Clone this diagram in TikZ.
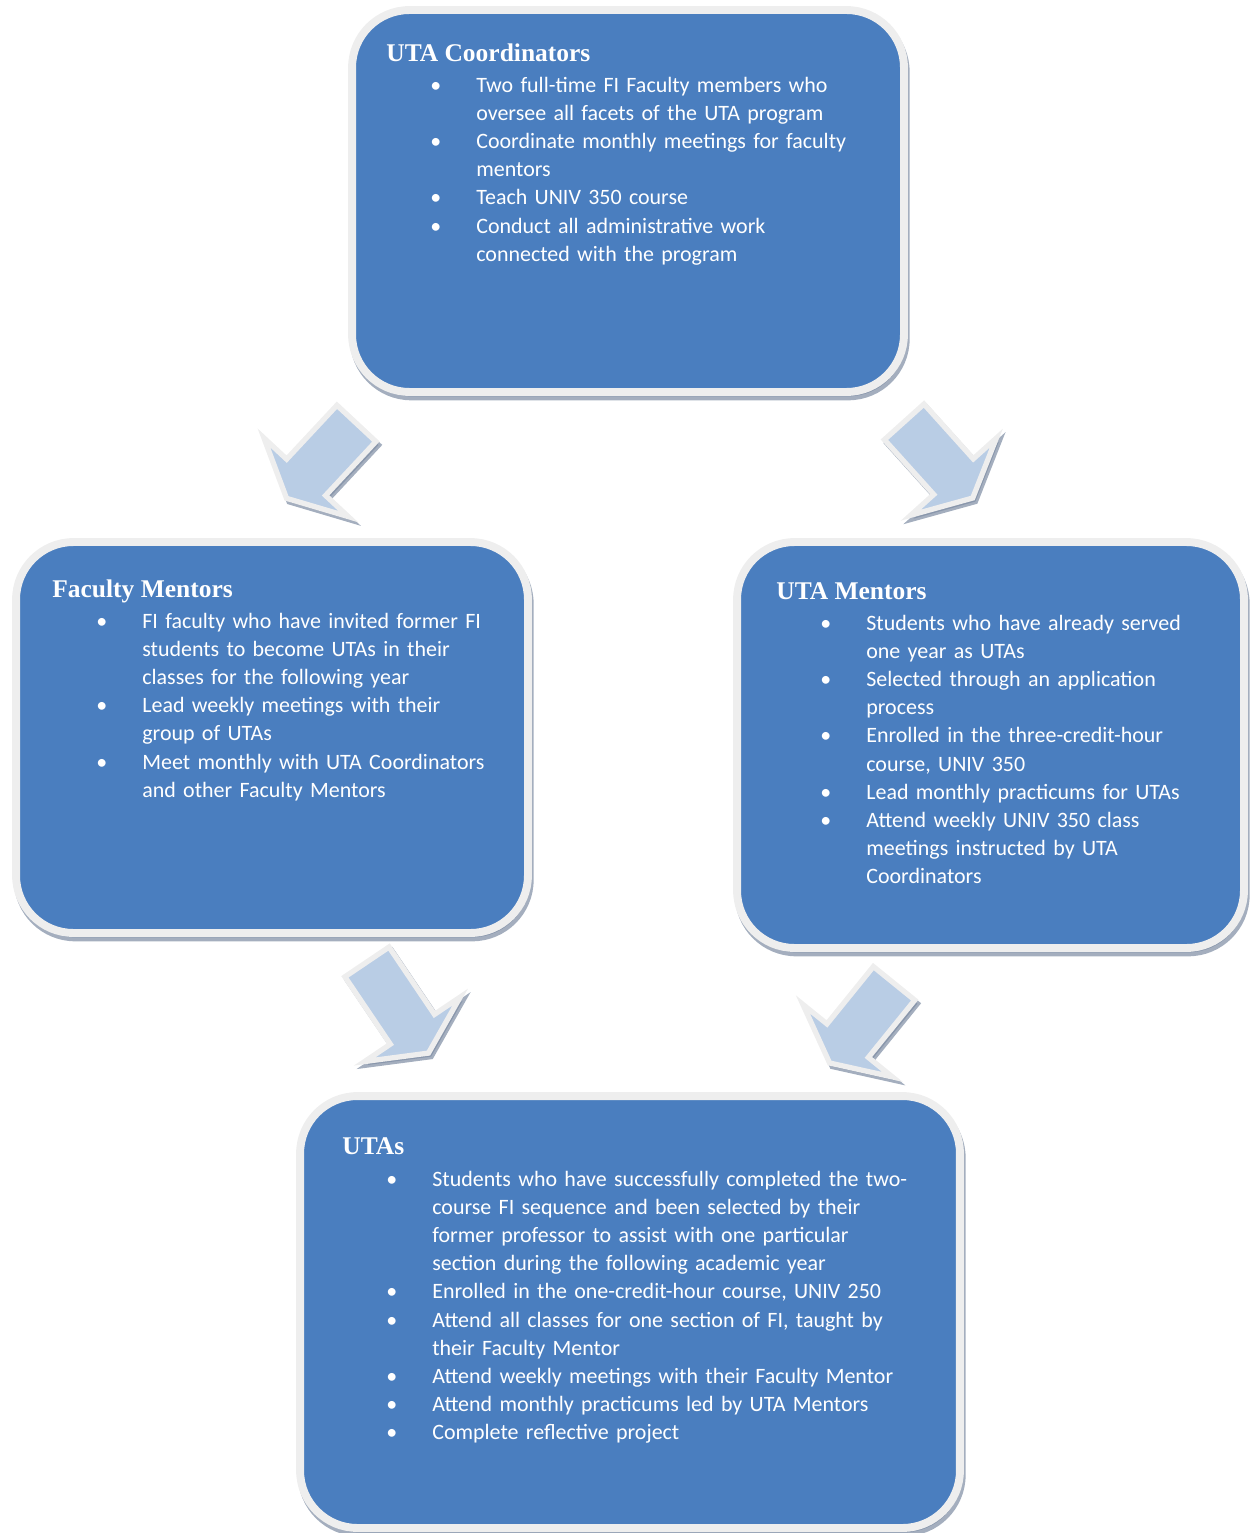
\documentclass[tikz,border=0pt]{standalone}
\usepackage{fontspec}
\setmainfont{Carlito}
\newfontfamily\headfont{Liberation Serif}
\usepackage{enumitem}
\setlist[itemize]{label=\strut\textbullet, leftmargin=0.8cm, labelsep=0.7cm, itemsep=0pt, parsep=0pt, topsep=0pt, partopsep=0pt}
\usetikzlibrary{positioning, shapes.arrows, shadows}
\definecolor{cbox}{HTML}{4A7EBF}
\definecolor{cedge}{HTML}{EEEEEE}
\definecolor{cshade}{HTML}{7D8CA3}
\definecolor{carrow}{HTML}{B9CDE5}
\tikzset{
  panel/.style={draw=cedge, line width=4.5pt, fill=cbox, rounded corners=1.15cm,
    drop shadow={shadow xshift=1pt, shadow yshift=-2.5pt, fill=cshade, draw=cshade, line width=4.5pt, opacity=0.7}},
  heading/.style={anchor=base west, inner sep=0pt, text=white, font=\headfont\bfseries\fontsize{14.5}{17}\selectfont},
  points/.style={anchor=north west, inner sep=0pt, text=white, text width=11cm, align=left, font=\fontsize{12.5}{16}\selectfont},
  flow/.style={single arrow, draw=cedge, line width=3pt, fill=carrow, inner xsep=0pt, inner ysep=0.48cm,
    single arrow head extend=0.62cm, single arrow tip angle=127, minimum height=#1,
    drop shadow={shadow xshift=1.5pt, shadow yshift=-2pt, fill=cshade, draw=cshade, line width=3pt, opacity=0.7}},
}

\begin{document}
\begin{tikzpicture}[x=0.02cm, y=-0.02cm]
  \useasboundingbox (0,0) rectangle (1249,1533);
  % the four boxes
  \node[panel, minimum width=11.04cm, minimum height=7.64cm] (coord) at (628,201) {};
  \node[panel, minimum width=10.24cm, minimum height=7.82cm] (fac) at (272,737.5) {};
  \node[panel, minimum width=10.14cm, minimum height=8.12cm] (men) at (990.5,745) {};
  \node[panel, minimum width=13.2cm, minimum height=8.64cm] (uta) at (630,1312) {};
  % block arrows between them
  \node[flow=2.05cm, rotate=227] (coordtofac) at (326,456) {};
  \node[flow=2.05cm, rotate=-48] (coordtomen) at (934,455) {};
  \node[flow=2.2cm, rotate=-56] (factouta) at (394,1002) {};
  \node[flow=2.05cm, rotate=231] (mentouta) at (866,1018) {};
  % headings
  \node[heading] (coordhead) at (386,62) {UTA Coordinators};
  \node[heading] (fachead) at (52,597) {Faculty Mentors};
  \node[heading] (menhead) at (776,599) {UTA Mentors};
  \node[heading] (utahead) at (342,1154) {UTAs};
  % bullet lists
  \node[points] (coordlist) at (436,64) {\begin{itemize}
    \item Two full-time FI Faculty members who\\oversee all facets of the UTA program
    \item Coordinate monthly meetings for faculty\\mentors
    \item Teach UNIV 350 course
    \item Conduct all administrative work\\connected with the program
  \end{itemize}};
  \node[points] (faclist) at (102,600) {\begin{itemize}
    \item FI faculty who have invited former FI\\students to become UTAs in their\\classes for the following year
    \item Lead weekly meetings with their\\group of UTAs
    \item Meet monthly with UTA Coordinators\\and other Faculty Mentors
  \end{itemize}};
  \node[points] (menlist) at (826,602) {\begin{itemize}
    \item Students who have already served\\one year as UTAs
    \item Selected through an application\\process
    \item Enrolled in the three-credit-hour\\course, UNIV 350
    \item Lead monthly practicums for UTAs
    \item Attend weekly UNIV 350 class\\meetings instructed by UTA\\Coordinators
  \end{itemize}};
  \node[points] (utalist) at (392,1158) {\begin{itemize}
    \item Students who have successfully completed the two-\\course FI sequence and been selected by their\\former professor to assist with one particular\\section during the following academic year
    \item Enrolled in the one-credit-hour course, UNIV 250
    \item Attend all classes for one section of FI, taught by\\their Faculty Mentor
    \item Attend weekly meetings with their Faculty Mentor
    \item Attend monthly practicums led by UTA Mentors
    \item Complete reflective project
  \end{itemize}};
\end{tikzpicture}
\end{document}
